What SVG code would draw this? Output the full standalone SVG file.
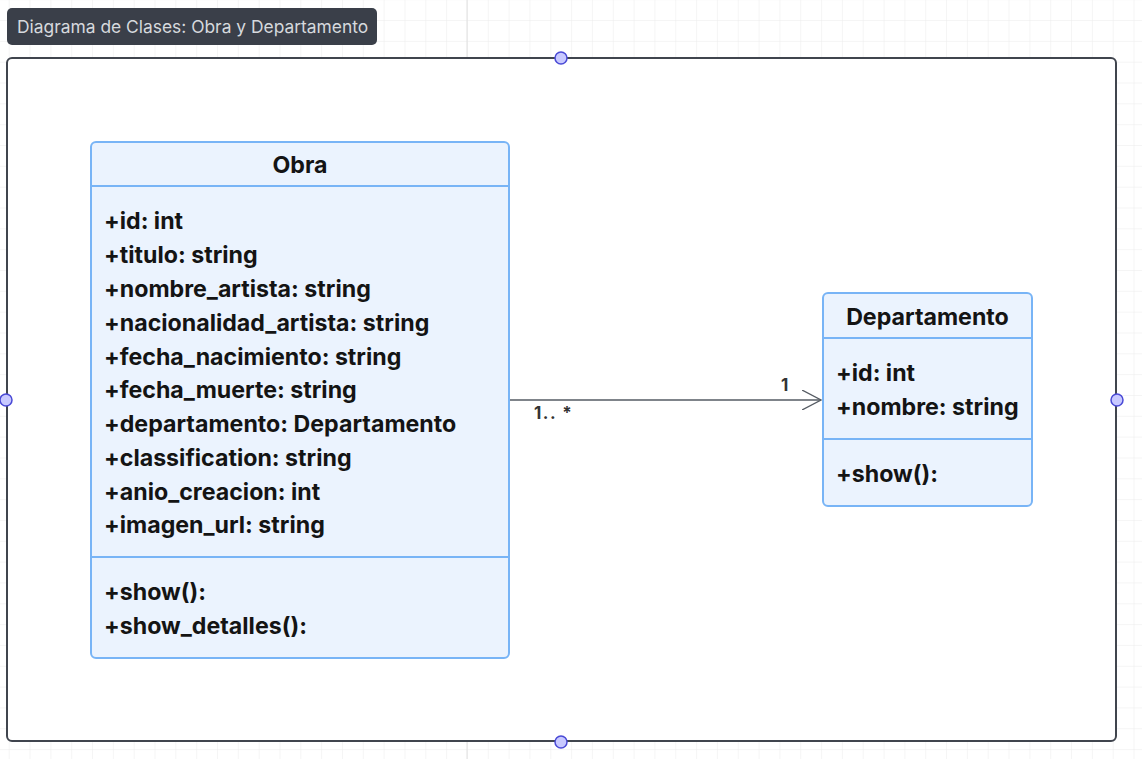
<svg xmlns="http://www.w3.org/2000/svg" width="1142" height="759" viewBox="0 0 1142 759">
<defs>
<pattern id="grid" x="8.7" y="-0.8" width="20.83" height="20.83" patternUnits="userSpaceOnUse">
<path d="M0 0H20.83M0 0V20.83" fill="none" stroke="#ececec" stroke-width="1"/>
</pattern>
<marker id="open" viewBox="0 0 20 20" refX="19" refY="10" markerWidth="20" markerHeight="20" markerUnits="userSpaceOnUse" orient="auto">
<path d="M0 0L19 10L0 20" fill="none" stroke="#555b63" stroke-width="1.3"/>
</marker>
<style>
.cls{fill:#ebf3fe;stroke:#78b4f6;stroke-width:2}
.sep{stroke:#78b4f6;stroke-width:2}
.t{font-family:Inter,"Liberation Sans",sans-serif;font-weight:700;fill:#141414;font-size:23.2px}
.h{text-anchor:middle}
.handle{fill:#c8c9ff;stroke:#4a4ad6;stroke-width:1.5}
.lbl{font-family:Inter,"Liberation Sans",sans-serif;font-weight:700;fill:#333;font-size:17px}
</style>
</defs>
<rect width="1142" height="759" fill="#fff"/>
<rect width="1142" height="759" fill="url(#grid)"/>
<line x1="467" y1="0" x2="467" y2="759" stroke="#e0e0e0"/>
<g id="title">
<rect x="7" y="8" width="370" height="37" rx="5" fill="#3a3f49"/>
<text x="17" y="33" font-family="Inter,'Liberation Sans',sans-serif" font-size="17.4" fill="#d6d9dd">Diagrama de Clases: Obra y Departamento</text>
</g>
<g id="frame">
<rect x="7" y="58" width="1109" height="683" rx="5" fill="#fff" stroke="#40454e" stroke-width="2"/>
</g>
<g id="connectors">
<line x1="509" y1="400" x2="821" y2="400" stroke="#555b63" stroke-width="1.3" marker-end="url(#open)"/>
<text class="lbl" x="781" y="391">1</text>
<text class="lbl" x="534" y="419" letter-spacing="1.5">1.. *</text>
</g>
<g id="obra">
<rect class="cls" x="91" y="142" width="418" height="516" rx="5"/>
<line class="sep" x1="91" y1="186" x2="509" y2="186"/>
<line class="sep" x1="91" y1="557" x2="509" y2="557"/>
<text class="t h" x="300" y="173">Obra</text>
<text class="t" x="104" y="229">+id: int</text>
<text class="t" x="104" y="263">+titulo: string</text>
<text class="t" x="104" y="297">+nombre_artista: string</text>
<text class="t" x="104" y="331">+nacionalidad_artista: string</text>
<text class="t" x="104" y="365">+fecha_nacimiento: string</text>
<text class="t" x="104" y="398">+fecha_muerte: string</text>
<text class="t" x="104" y="432">+departamento: Departamento</text>
<text class="t" x="104" y="466">+classification: string</text>
<text class="t" x="104" y="500">+anio_creacion: int</text>
<text class="t" x="104" y="533">+imagen_url: string</text>
<text class="t" x="104" y="600">+show():</text>
<text class="t" x="104" y="634">+show_detalles():</text>
</g>
<g id="departamento">
<rect class="cls" x="823" y="293" width="209" height="213" rx="5"/>
<line class="sep" x1="823" y1="338" x2="1032" y2="338"/>
<line class="sep" x1="823" y1="439" x2="1032" y2="439"/>
<text class="t h" x="927.5" y="325">Departamento</text>
<text class="t" x="836" y="381">+id: int</text>
<text class="t" x="836" y="415">+nombre: string</text>
<text class="t" x="836" y="482">+show():</text>
</g>
<g id="handles">
<circle class="handle" cx="561" cy="58" r="6"/>
<circle class="handle" cx="561" cy="742" r="6"/>
<circle class="handle" cx="6" cy="400" r="6"/>
<circle class="handle" cx="1117" cy="400" r="6"/>
</g>
</svg>
